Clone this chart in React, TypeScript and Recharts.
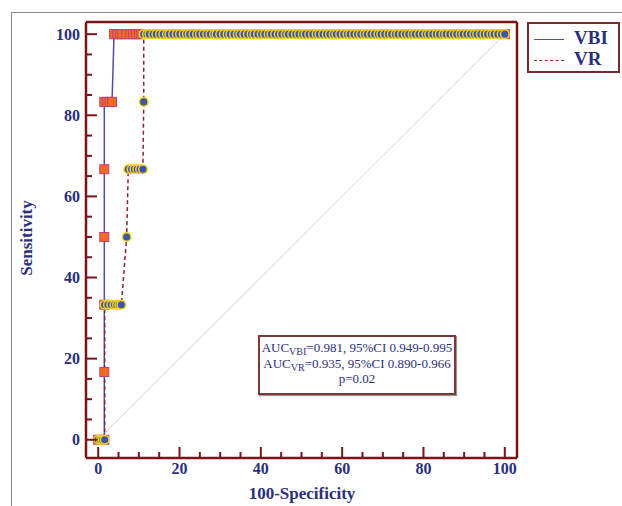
import { Line, LineChart, XAxis, YAxis } from "recharts";

// ROC curves, VBI vs VR (x = 100-Specificity, y = Sensitivity)
const VBI_RISE_X = [0, 1.5, 1.5, 1.5, 1.5, 1.5, 1.5, 2.2, 2.8, 3.4];
const VBI_RISE_Y = [0, 0, 16.7, 33.3, 50, 66.7, 83.3, 83.3, 83.3, 83.3];
const VBI_TOP_X = [
  3.9, 4.7, 5.3, 5.9, 6.9, 7.9, 8.6, 9.3, 10, 10.6, 19, 24, 29.5, 35.4, 39, 45, 52, 58, 63, 70, 76, 83, 88,
  94, 100,
];

const VR_RISE_X = [0, 0.6, 1.1, 1.6, 1.6, 2.4, 3.2, 4, 4.6, 5.2, 5.7, 7, 7.4, 8.2, 8.9, 9.6, 10.3, 11, 11.2];
const VR_RISE_Y = [0, 0, 0, 0, 33.3, 33.3, 33.3, 33.3, 33.3, 33.3, 33.3, 50, 66.7, 66.7, 66.7, 66.7, 66.7, 66.7, 83.3];
const VR_TOP_X = [
  11.2, 12, 12.6, 13.5, 14.3, 15.2, 16, 16.9, 17.5, 18.4, 19.3, 20.1, 21, 21.8, 22.5, 23.4, 24.3, 25, 25.9,
  26.8, 27.6, 28.5, 29.1, 30, 30.9, 31.8, 32.5, 33.4, 34.3, 35, 35.9, 36.8, 37.7, 38.4, 39.3, 40.2, 41, 41.9,
  42.6, 43.5, 44.4, 45.2, 46.1, 46.8, 47.7, 48.6, 49.4, 50.3, 51, 51.9, 52.8, 53.7, 54.4, 55.3, 56.2, 57, 57.9,
  58.6, 59.5, 60.4, 61.3, 62, 62.9, 63.8, 64.6, 65.5, 66.2, 67.1, 68, 68.9, 69.6, 70.5, 71.4, 72.2, 73.1, 73.8,
  74.7, 75.6, 76.4, 77.3, 78, 78.9, 79.8, 80.7, 81.4, 82.3, 83.2, 84, 84.9, 85.6, 86.5, 87.4, 88.2, 89.1, 89.8,
  90.7, 91.6, 92.5, 93.2, 94.1, 95, 95.8, 96.7, 97.4, 98.3, 99.2, 100,
];

const DIAG_X = [0, 100];
const DIAG_Y = [0, 100];

const AXIS_TICKS = [0, 5, 10, 15, 20, 25, 30, 35, 40, 45, 50, 55, 60, 65, 70, 75, 80, 85, 90, 95, 100];
const MAJOR_TICKS = [0, 20, 40, 60, 80, 100];

const NAVY = "#2b2f7c";
const AXIS_RED = "#7a1416";
const SERIF = "'Liberation Serif', 'Times New Roman', serif";

const vbiData = VBI_RISE_X.map((x, i) => ({ x, y: VBI_RISE_Y[i] })).concat(VBI_TOP_X.map((x) => ({ x, y: 100 })));
const vrData = VR_RISE_X.map((x, i) => ({ x, y: VR_RISE_Y[i] })).concat(VR_TOP_X.map((x) => ({ x, y: 100 })));
const diagData = DIAG_X.map((x, i) => ({ x, y: DIAG_Y[i] }));

function YTick(props: any) {
  const { x, y, payload } = props;
  const major = MAJOR_TICKS.includes(payload.value);
  return (
    <g>
      <line x1={x} x2={x + (major ? 11 : 6)} y1={y} y2={y} stroke={AXIS_RED} strokeWidth={2} />
      {major && (
        <text x={x - 6} y={y} textAnchor="end" dominantBaseline="central" fill={NAVY} fontFamily={SERIF} fontWeight="bold" fontSize={16}>
          {payload.value}
        </text>
      )}
    </g>
  );
}

function XTick(props: any) {
  const { x, y, payload } = props;
  const major = MAJOR_TICKS.includes(payload.value);
  return (
    <g>
      <line x1={x} x2={x} y1={y} y2={y - (major ? 11 : 6)} stroke={AXIS_RED} strokeWidth={2} />
      {major && (
        <text x={x} y={y + 10} textAnchor="middle" dominantBaseline="central" fill={NAVY} fontFamily={SERIF} fontWeight="bold" fontSize={16}>
          {payload.value}
        </text>
      )}
    </g>
  );
}

function SquareDot(props: any) {
  const { cx, cy, index } = props;
  return <rect key={`s-${index}`} x={cx - 4.5} y={cy - 4.5} width={9} height={9} fill="#f26a21" stroke="#c2407a" strokeWidth={1} />;
}

function CircleDot(props: any) {
  const { cx, cy, index } = props;
  return <circle key={`c-${index}`} cx={cx} cy={cy} r={4.3} fill="#3a56a6" stroke="#f2d21a" strokeWidth={1.5} />;
}

const subStyle = { fontSize: 10, verticalAlign: -3, lineHeight: 0 } as const;

export default function App() {
  return (
    <div style={{ position: "absolute", left: 0, top: 0, width: 622, height: 506, background: "#fff", overflow: "hidden" }}>
      <div
        style={{
          position: "absolute",
          left: 11,
          top: 12,
          width: 640,
          height: 520,
          borderTop: "1.5px solid #8a8a8a",
          borderLeft: "1.5px solid #8a8a8a",
        }}
      />
      <LineChart width={622} height={506} margin={{ top: 21, right: 104, bottom: 18, left: 26 }} style={{ position: "absolute", left: 0, top: 0 }}>
        <XAxis
          dataKey="x"
          type="number"
          domain={[-3, 103]}
          ticks={AXIS_TICKS}
          interval={0}
          allowDataOverflow
          height={30}
          tickSize={0}
          tickMargin={0}
          tickLine={false}
          tick={<XTick />}
          axisLine={{ stroke: AXIS_RED, strokeWidth: 2.5 }}
        />
        <XAxis
          xAxisId="top"
          orientation="top"
          dataKey="x"
          type="number"
          domain={[-3, 103]}
          allowDataOverflow
          height={1}
          tick={false}
          tickLine={false}
          axisLine={{ stroke: AXIS_RED, strokeWidth: 2.5 }}
        />
        <YAxis
          type="number"
          domain={[-4.5, 103]}
          ticks={AXIS_TICKS}
          interval={0}
          allowDataOverflow
          width={60}
          tickSize={0}
          tickMargin={0}
          tickLine={false}
          tick={<YTick />}
          axisLine={{ stroke: AXIS_RED, strokeWidth: 2.5 }}
        />
        <YAxis
          yAxisId="right"
          orientation="right"
          type="number"
          domain={[-4.5, 103]}
          allowDataOverflow
          width={1}
          tick={false}
          tickLine={false}
          axisLine={{ stroke: AXIS_RED, strokeWidth: 2.5 }}
        />
        <Line data={diagData} dataKey="y" stroke="#e2cccc" strokeWidth={1} dot={false} isAnimationActive={false} />
        <Line data={vbiData} dataKey="y" stroke="#4b4fa8" strokeWidth={1.5} dot={SquareDot} isAnimationActive={false} />
        <Line data={vrData} dataKey="y" stroke="#8b2525" strokeWidth={1.5} strokeDasharray="4 3" dot={CircleDot} isAnimationActive={false} />
      </LineChart>

      <div
        style={{
          position: "absolute",
          left: 27,
          top: 238,
          transform: "translate(-50%, -50%) rotate(-90deg)",
          fontFamily: SERIF,
          fontWeight: "bold",
          fontSize: 17,
          color: NAVY,
          whiteSpace: "nowrap",
        }}
      >
        Sensitivity
      </div>
      <div
        style={{
          position: "absolute",
          left: 302,
          top: 494,
          transform: "translate(-50%, -50%)",
          fontFamily: SERIF,
          fontWeight: "bold",
          fontSize: 17,
          color: NAVY,
          whiteSpace: "nowrap",
        }}
      >
        100-Specificity
      </div>

      <div
        style={{
          position: "absolute",
          left: 527,
          top: 22,
          width: 89,
          height: 47,
          border: "2px solid #7a2a2a",
          fontFamily: SERIF,
          fontWeight: "bold",
          fontSize: 19,
          color: NAVY,
        }}
      >
        <div style={{ position: "absolute", left: 5, top: 15, width: 30, borderTop: "1.5px solid #4b4fa8" }} />
        <div style={{ position: "absolute", left: 45, top: 3, lineHeight: "22px" }}>VBI</div>
        <div style={{ position: "absolute", left: 5, top: 36, width: 30, borderTop: "1.5px dashed #8b2525" }} />
        <div style={{ position: "absolute", left: 45, top: 24, lineHeight: "22px" }}>VR</div>
      </div>

      <div
        style={{
          position: "absolute",
          left: 258,
          top: 335,
          width: 194,
          height: 53,
          border: "2px solid #7a3a3a",
          boxShadow: "1px 1px 1px #999",
          fontFamily: SERIF,
          fontSize: 13,
          color: NAVY,
          textAlign: "center",
          lineHeight: "15.5px",
          paddingTop: 3,
          whiteSpace: "nowrap",
        }}
      >
        <div>
          AUC<sub style={subStyle}>VBI</sub>=0.981, 95%CI 0.949-0.995
        </div>
        <div>
          AUC<sub style={subStyle}>VR</sub>=0.935, 95%CI 0.890-0.966
        </div>
        <div>p=0.02</div>
      </div>
    </div>
  );
}
